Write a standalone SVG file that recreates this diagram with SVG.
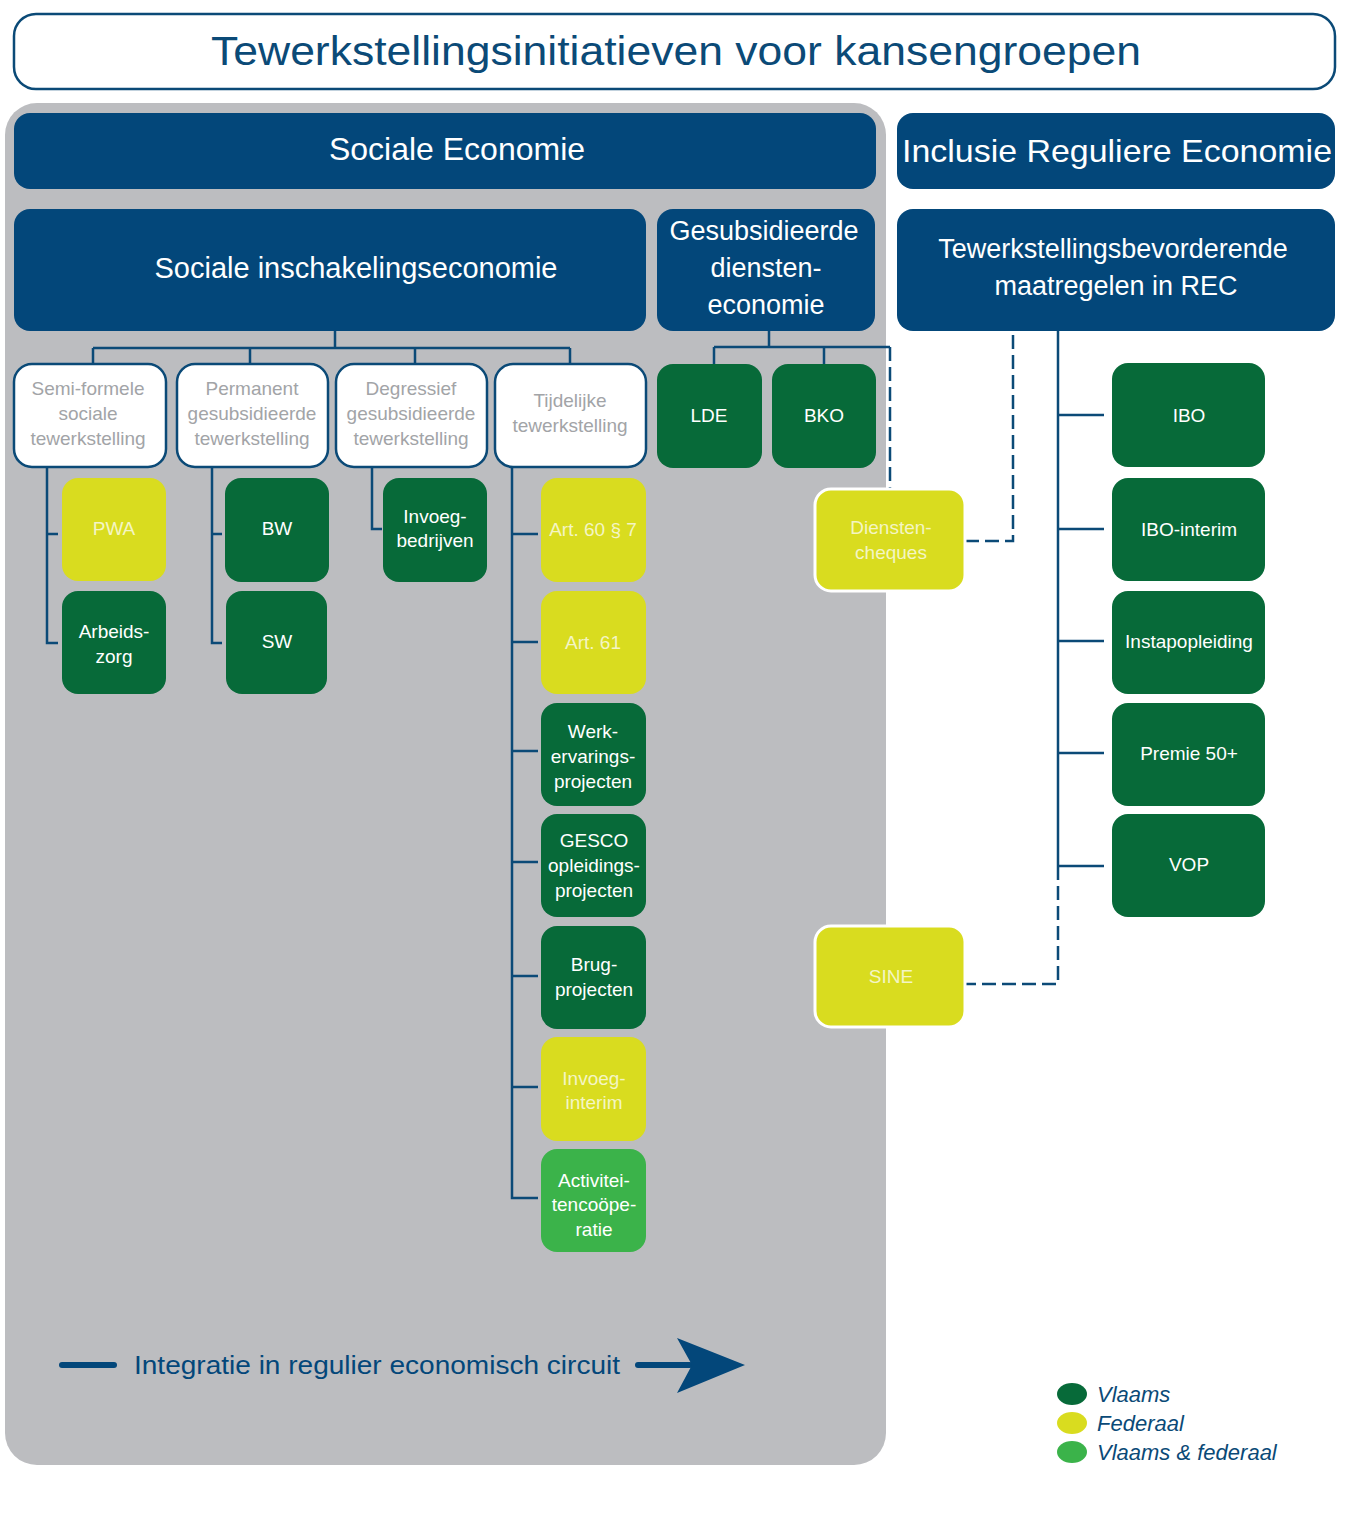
<svg xmlns="http://www.w3.org/2000/svg" width="1362" height="1534" viewBox="0 0 1362 1534">
<style>
text{font-family:"Liberation Sans","DejaVu Sans",Arial,sans-serif;text-anchor:middle}
.hdr{fill:#03477a}
.ht{fill:#ffffff}
.wb{fill:#ffffff;stroke:#0b4a77;stroke-width:2.5}
.wt{fill:#a2a4a7;font-size:19px}
.g{fill:#076a39}
.y{fill:#d9dc1f}
.lg{fill:#3bb34a}
.nt{fill:#ffffff;font-size:19px}
.yt{fill:#f4f5c4;font-size:19px}
.c{fill:none;stroke:#0b4a77;stroke-width:2.5}
.d{fill:none;stroke:#0b4a77;stroke-width:2.5;stroke-dasharray:14 6}
</style>
<rect width="1362" height="1534" fill="#ffffff"/>
<g id="title">
<rect x="14" y="14" width="1321" height="75" rx="22" fill="#ffffff" stroke="#0b4a77" stroke-width="2.5"/>
<text x="676" y="65" font-size="40" fill="#0b4a77" textLength="930" lengthAdjust="spacingAndGlyphs">Tewerkstellingsinitiatieven voor kansengroepen</text>
</g>
<g id="panel"><rect x="5" y="103" width="881" height="1362" rx="32" fill="#bcbdc0"/></g>
<g id="connectors">
<path class="c" d="M335 331V348M93 348H570M93 348V364M250 348V364M415 348V364M570 348V364"/>
<path class="c" d="M769 331V347M714 347H890M714 347V364M824 347V364"/>
<path class="d" d="M890 347V489"/>
<path class="d" d="M965 541H1013V331"/>
<path class="c" d="M1058 331V866"/>
<path class="d" d="M1058 866V984H965"/>
<path class="c" d="M1058 415H1104M1058 529H1104M1058 641H1104M1058 753H1104M1058 866H1104"/>
<path class="c" d="M47 467V643H58M47 534H58"/>
<path class="c" d="M212 467V643H222M212 534H222"/>
<path class="c" d="M372 467V529H382"/>
<path class="c" d="M512 467V1198H538M512 534H538M512 642H538M512 751H538M512 862H538M512 976H538M512 1087H538"/>
</g>
<g id="sociale-economie"><rect class="hdr" x="14" y="113" width="862" height="76" rx="16"/><text class="ht" x="457" y="160" font-size="32">Sociale Economie</text></g>
<g id="inclusie"><rect class="hdr" x="897" y="113" width="438" height="76" rx="16"/><text class="ht" x="1117" y="162" font-size="32" textLength="430" lengthAdjust="spacingAndGlyphs">Inclusie Reguliere Economie</text></g>
<g id="sociale-inschakeling"><rect class="hdr" x="14" y="209" width="632" height="122" rx="16"/><text class="ht" x="356" y="278" font-size="29">Sociale inschakelingseconomie</text></g>
<g id="gesubsidieerde"><rect class="hdr" x="657" y="209" width="218" height="122" rx="16"/><text class="ht" font-size="27"><tspan x="764" y="240">Gesubsidieerde</tspan><tspan x="766" y="277">diensten-</tspan><tspan x="766" y="314">economie</tspan></text></g>
<g id="tewerkstellingsbevorderende"><rect class="hdr" x="897" y="209" width="438" height="122" rx="16"/><text class="ht" font-size="27"><tspan x="1113" y="258">Tewerkstellingsbevorderende</tspan><tspan x="1116" y="295">maatregelen in REC</tspan></text></g>
<g id="semi-formele"><rect class="wb" x="14" y="364" width="152" height="103" rx="18"/><text class="wt"><tspan x="88" y="395">Semi-formele</tspan><tspan x="88" y="420">sociale</tspan><tspan x="88" y="445">tewerkstelling</tspan></text></g>
<g id="permanent"><rect class="wb" x="177" y="364" width="151" height="103" rx="18"/><text class="wt"><tspan x="252" y="395">Permanent</tspan><tspan x="252" y="420">gesubsidieerde</tspan><tspan x="252" y="445">tewerkstelling</tspan></text></g>
<g id="degressief"><rect class="wb" x="336" y="364" width="151" height="103" rx="18"/><text class="wt"><tspan x="411" y="395">Degressief</tspan><tspan x="411" y="420">gesubsidieerde</tspan><tspan x="411" y="445">tewerkstelling</tspan></text></g>
<g id="tijdelijke"><rect class="wb" x="495" y="364" width="151" height="103" rx="18"/><text class="wt"><tspan x="570" y="407">Tijdelijke</tspan><tspan x="570" y="432">tewerkstelling</tspan></text></g>
<g id="lde"><rect class="g" x="657" y="364" width="105" height="104" rx="16"/><text class="nt" x="709" y="422">LDE</text></g>
<g id="bko"><rect class="g" x="772" y="364" width="104" height="104" rx="16"/><text class="nt" x="824" y="422">BKO</text></g>
<g id="dienstencheques"><rect class="y" x="815" y="489" width="150" height="102" rx="16" stroke="#ffffff" stroke-width="3"/><text class="yt"><tspan x="891" y="534">Diensten-</tspan><tspan x="891" y="559">cheques</tspan></text></g>
<g id="sine"><rect class="y" x="815" y="926" width="150" height="101" rx="16" stroke="#ffffff" stroke-width="3"/><text class="yt" x="891" y="983">SINE</text></g>
<g id="ibo"><rect class="g" x="1112" y="363" width="153" height="104" rx="16"/><text class="nt" x="1189" y="422">IBO</text></g>
<g id="ibo-interim"><rect class="g" x="1112" y="478" width="153" height="103" rx="16"/><text class="nt" x="1189" y="536">IBO-interim</text></g>
<g id="instapopleiding"><rect class="g" x="1112" y="591" width="153" height="103" rx="16"/><text class="nt" x="1189" y="648">Instapopleiding</text></g>
<g id="premie50"><rect class="g" x="1112" y="703" width="153" height="103" rx="16"/><text class="nt" x="1189" y="760">Premie 50+</text></g>
<g id="vop"><rect class="g" x="1112" y="814" width="153" height="103" rx="16"/><text class="nt" x="1189" y="871">VOP</text></g>
<g id="pwa"><rect class="y" x="62" y="478" width="104" height="103" rx="16"/><text class="yt" x="114" y="535">PWA</text></g>
<g id="arbeidszorg"><rect class="g" x="62" y="591" width="104" height="103" rx="16"/><text class="nt"><tspan x="114" y="638">Arbeids-</tspan><tspan x="114" y="663">zorg</tspan></text></g>
<g id="bw"><rect class="g" x="225" y="478" width="104" height="104" rx="16"/><text class="nt" x="277" y="535">BW</text></g>
<g id="sw"><rect class="g" x="226" y="591" width="101" height="103" rx="16"/><text class="nt" x="277" y="648">SW</text></g>
<g id="invoegbedrijven"><rect class="g" x="383" y="478" width="104" height="104" rx="16"/><text class="nt"><tspan x="435" y="523">Invoeg-</tspan><tspan x="435" y="547">bedrijven</tspan></text></g>
<g id="art60"><rect class="y" x="541" y="478" width="105" height="104" rx="16"/><text class="yt" x="593" y="536">Art. 60 § 7</text></g>
<g id="art61"><rect class="y" x="541" y="591" width="105" height="103" rx="16"/><text class="yt" x="593" y="649">Art. 61</text></g>
<g id="werkervaring"><rect class="g" x="541" y="703" width="105" height="103" rx="16"/><text class="nt"><tspan x="593" y="738">Werk-</tspan><tspan x="593" y="763">ervarings-</tspan><tspan x="593" y="788">projecten</tspan></text></g>
<g id="gesco"><rect class="g" x="541" y="814" width="105" height="103" rx="16"/><text class="nt"><tspan x="594" y="847">GESCO</tspan><tspan x="594" y="872">opleidings-</tspan><tspan x="594" y="897">projecten</tspan></text></g>
<g id="brugprojecten"><rect class="g" x="541" y="926" width="105" height="103" rx="16"/><text class="nt"><tspan x="594" y="971">Brug-</tspan><tspan x="594" y="996">projecten</tspan></text></g>
<g id="invoeginterim"><rect class="y" x="541" y="1037" width="105" height="104" rx="16"/><text class="yt"><tspan x="594" y="1085">Invoeg-</tspan><tspan x="594" y="1109">interim</tspan></text></g>
<g id="activiteitencooperatie"><rect class="lg" x="541" y="1149" width="105" height="103" rx="16"/><text class="nt" fill="#eaf7e6"><tspan x="594" y="1187">Activitei-</tspan><tspan x="594" y="1211">tencoöpe-</tspan><tspan x="594" y="1236">ratie</tspan></text></g>
<g id="integratie-arrow">
<line x1="62" y1="1365" x2="114" y2="1365" stroke="#03477a" stroke-width="6" stroke-linecap="round"/>
<text x="377" y="1374" font-size="26" fill="#03477a" textLength="486" lengthAdjust="spacingAndGlyphs">Integratie in regulier economisch circuit</text>
<line x1="638" y1="1365" x2="690" y2="1365" stroke="#03477a" stroke-width="6" stroke-linecap="round"/>
<polygon points="677,1338 745,1365 677,1393 692,1365" fill="#03477a"/>
</g>
<g id="legend">
<ellipse cx="1072" cy="1394" rx="15" ry="11" fill="#076a39"/>
<ellipse cx="1072" cy="1423" rx="15" ry="11" fill="#d9dc1f"/>
<ellipse cx="1072" cy="1452" rx="15" ry="11" fill="#3bb34a"/>
<text x="1097" y="1402" font-size="22" font-style="italic" fill="#0b4a77" style="text-anchor:start">Vlaams</text>
<text x="1097" y="1431" font-size="22" font-style="italic" fill="#0b4a77" style="text-anchor:start">Federaal</text>
<text x="1097" y="1460" font-size="22" font-style="italic" fill="#0b4a77" style="text-anchor:start">Vlaams &amp; federaal</text>
</g>
</svg>
